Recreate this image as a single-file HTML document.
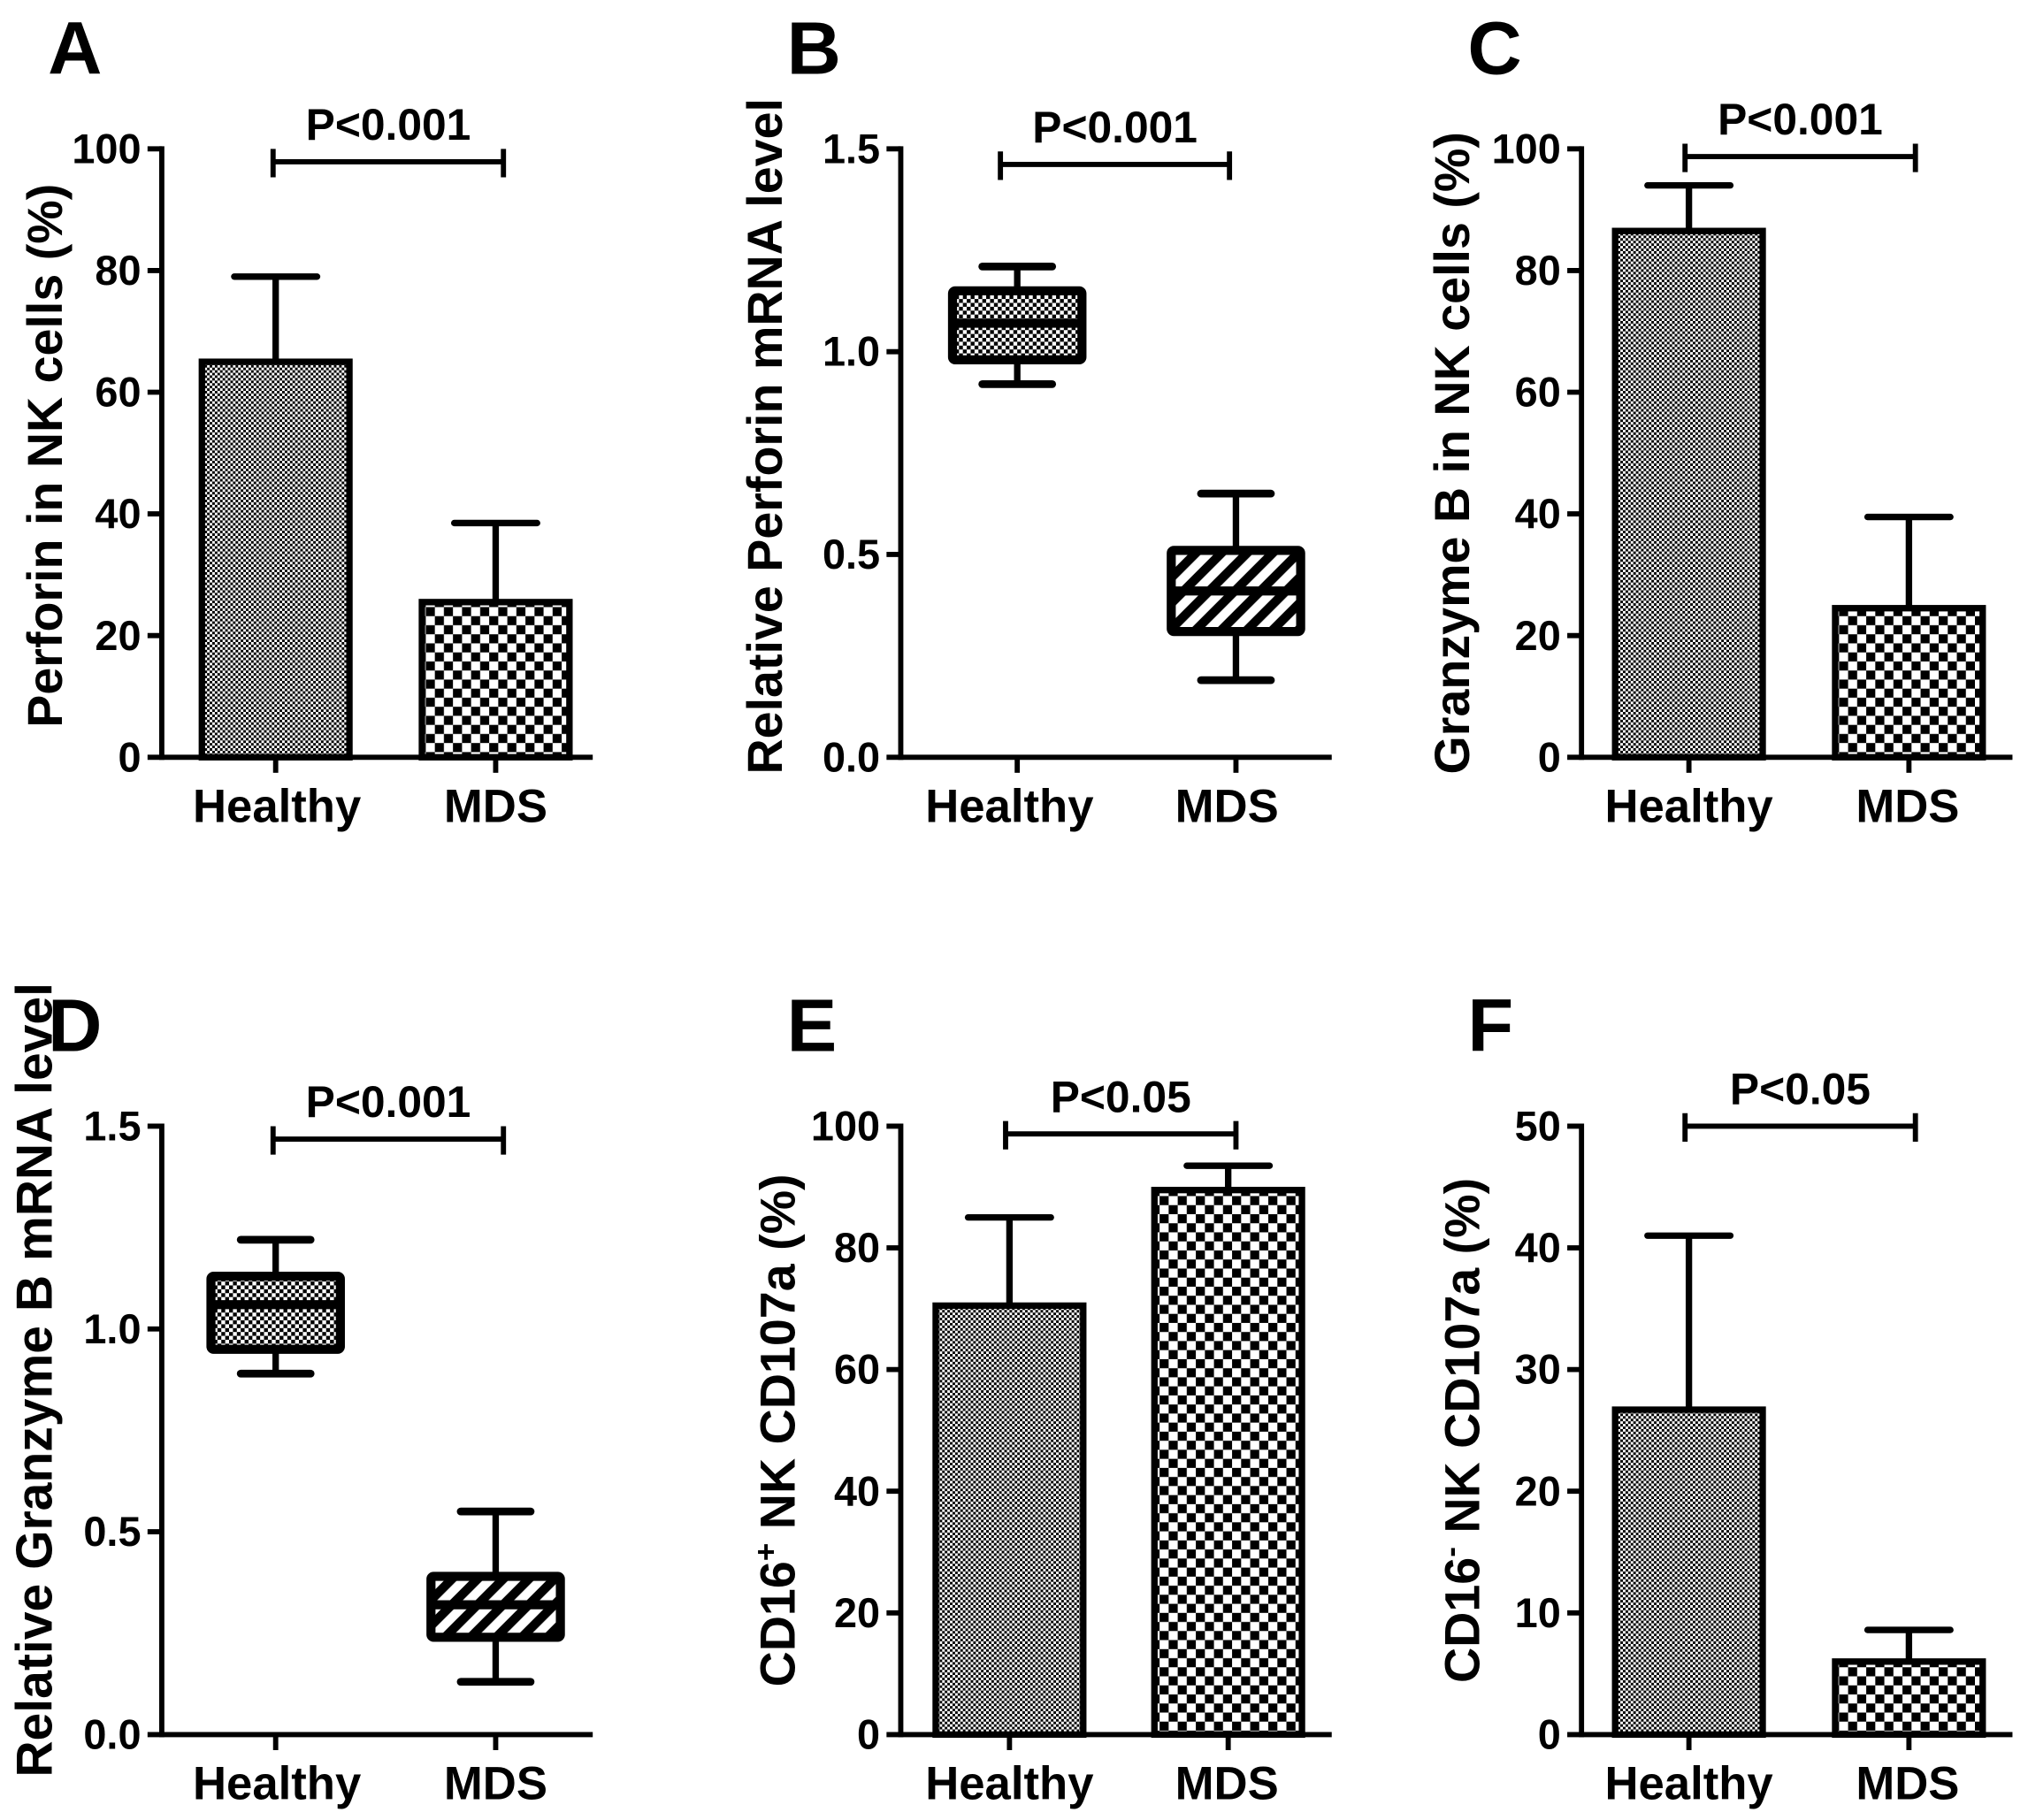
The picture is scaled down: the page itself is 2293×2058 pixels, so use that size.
<!DOCTYPE html>
<html><head><meta charset="utf-8"><style>
html,body{margin:0;padding:0;background:#fff}
svg{display:block;font-family:"Liberation Sans",Arial,sans-serif;font-weight:bold}
</style></head><body>
<svg id="fig" width="2293" height="2058" viewBox="0 0 1567 1406" preserveAspectRatio="none" xmlns="http://www.w3.org/2000/svg">
<defs>
<pattern id="fine" patternUnits="userSpaceOnUse" width="4" height="4"><rect width="4" height="4" fill="#fff"/><rect width="2" height="2" fill="#000"/><rect x="2" y="2" width="2" height="2" fill="#000"/></pattern>
<pattern id="coarse" patternUnits="userSpaceOnUse" width="14" height="14"><rect width="14" height="14" fill="#fff"/><rect width="7" height="7" fill="#000"/><rect x="7" y="7" width="7" height="7" fill="#000"/></pattern>
<pattern id="dots" patternUnits="userSpaceOnUse" width="6" height="6"><rect width="6" height="6" fill="#fff"/><rect width="3" height="3" fill="#000"/><rect x="3" y="3" width="3" height="3" fill="#000"/></pattern>
<pattern id="diag" patternUnits="userSpaceOnUse" width="14" height="14" patternTransform="rotate(45)"><rect width="14" height="14" fill="#fff"/><rect width="7" height="14" fill="#000"/></pattern>
</defs>
</svg>
<script>
// Panel data
const categories = ["Healthy","MDS"];
const aMeans = [65, 25.5];
const aErrs = [79, 38.5];
const cMeans = [86.5, 24.5];
const cErrs = [94, 39.5];
const eMeans = [70.5, 89.5];
const eErrs = [85, 93.5];
const fMeans = [26.7, 6];
const fErrs = [41, 8.6];
const bQ1 = [0.98, 0.31];
const bMed = [1.07, 0.41];
const bQ3 = [1.15, 0.51];
const bMin = [0.92, 0.19];
const bMax = [1.21, 0.65];
const dQ1 = [0.95, 0.24];
const dMed = [1.06, 0.32];
const dQ3 = [1.13, 0.39];
const dMin = [0.89, 0.13];
const dMax = [1.22, 0.55];
const ticksPct = ["0","20","40","60","80","100"];
const ticksRel = ["0.0","0.5","1.0","1.5"];
const ticksF = ["0","10","20","30","40","50"];
const pLabels = ["P<0.001","P<0.001","P<0.001","P<0.001","P<0.05","P<0.05"];

const svg = document.getElementById('fig');
const NS = "http://www.w3.org/2000/svg";
function el(tag, attrs, parent){
  const e = document.createElementNS(NS, tag);
  for (const k in attrs) e.setAttribute(k, attrs[k]);
  (parent||svg).appendChild(e);
  return e;
}
function panel(o){
  const g = el('g', {});
  
  
  const yTop = o.top, yBot = o.top + 470, ax = o.ax;
  const ys = v => yBot - (v - o.min) / (o.max - o.min) * 470;
  const xs = [o.ax + o.c0, o.ax + o.c1];
  const lx = [o.ax + (o.l0||o.c0), o.ax + (o.l1||o.c1)];
  const letter = el('text', {x:o.ax - 88, y:o.top - 58, 'font-size':58}, g);
  letter.textContent = o.letter;
  
  
  const yaxis = el('line', {x1:ax, y1:yTop-2, x2:ax, y2:yBot+2, stroke:'#000','stroke-width':4}, g);
  
  
  const xaxis = el('line', {x1:ax, y1:yBot, x2:ax+333, y2:yBot, stroke:'#000','stroke-width':4}, g);
  
  
  o.ticks.forEach((t,i) => {
    const v = o.min + (o.max - o.min) * i / (o.ticks.length - 1);
    el('line', {x1:ax-11, y1:ys(v), x2:ax, y2:ys(v), stroke:'#000','stroke-width':4}, g);
    const tl = el('text', {x:ax-16, y:ys(v)+11, 'font-size':32, 'text-anchor':'end'}, g);
    tl.textContent = t;
    
    
  });
  categories.forEach((c,i) => {
    el('line', {x1:xs[i], y1:yBot, x2:xs[i], y2:yBot+12, stroke:'#000','stroke-width':4}, g);
    const xl = el('text', {x:lx[i], y:yBot+50, 'font-size':36, 'text-anchor':'middle'}, g);
    xl.textContent = c;
    
    
  });
  const tt = el('text', {transform:`translate(${o.tx},${o.top+o.tc}) rotate(-90)`, 'font-size':o.tfs||38, 'text-anchor':'middle'}, g);
  tt.innerHTML = o.title;
  
  
  const hw = 57;
  if (o.type === 'bar'){
    const fills = ['url(#fine)','url(#coarse)'];
    o.means.forEach((m,i) => {
      const e = el('line', {x1:xs[i], y1:ys(o.errs[i]), x2:xs[i], y2:ys(m), stroke:'#000','stroke-width':5}, g);
      
      
      el('line', {x1:xs[i]-32, y1:ys(o.errs[i]), x2:xs[i]+32, y2:ys(o.errs[i]), stroke:'#000','stroke-width':5,'stroke-linecap':'round'}, g);
      const b = el('rect', {x:xs[i]-hw, y:ys(m), width:hw*2, height:yBot-ys(m), fill:fills[i], stroke:'#000','stroke-width':5}, g);
      
      
    });
  } else {
    const fills = ['url(#dots)','url(#diag)'];
    const bw = 50;
    o.q1.forEach((q,i) => {
      el('line', {x1:xs[i], y1:ys(o.mn[i]), x2:xs[i], y2:ys(o.mx[i]), stroke:'#000','stroke-width':5}, g);
      el('line', {x1:xs[i]-27, y1:ys(o.mn[i]), x2:xs[i]+27, y2:ys(o.mn[i]), stroke:'#000','stroke-width':6,'stroke-linecap':'round'}, g);
      el('line', {x1:xs[i]-27, y1:ys(o.mx[i]), x2:xs[i]+27, y2:ys(o.mx[i]), stroke:'#000','stroke-width':6,'stroke-linecap':'round'}, g);
      const b = el('rect', {x:xs[i]-bw, y:ys(o.q3[i]), width:bw*2, height:ys(q)-ys(o.q3[i]), fill:fills[i], stroke:'#000','stroke-width':7,rx:2}, g);
      
      
      el('line', {x1:xs[i]-bw, y1:ys(o.med[i]), x2:xs[i]+bw, y2:ys(o.med[i]), stroke:'#000','stroke-width':7}, g);
    });
  }
  const by = o.by;
  const br = el('path', {d:`M${o.b0},${by-10} V${by+12} M${o.b0},${by} H${o.b1} M${o.b1},${by-10} V${by+12}`, stroke:'#000','stroke-width':4,fill:'none'}, g);
  
  
  const pt = el('text', {x:(o.b0+o.b1)/2, y:by-17, 'font-size':34, 'text-anchor':'middle'}, g);
  pt.textContent = o.p;
  
  
}
panel({letter:'A', ax:125, top:115, min:0, max:100, ticks:ticksPct, c0:88, c1:258, l0:89, l1:258, type:'bar', means:aMeans, errs:aErrs, title:'Perforin in NK cells (%)', tx:48, tc:237, b0:211, b1:389, by:125, p:pLabels[0]});
panel({letter:'B', ax:696, top:115, min:0, max:1.5, ticks:ticksRel, c0:90, c1:259, l0:84, l1:252, type:'box', q1:bQ1, med:bMed, q3:bQ3, mn:bMin, mx:bMax, title:'Relative Perforin mRNA level', tx:604, tc:222, b0:773, b1:950, by:127, p:pLabels[1]});
panel({letter:'C', ax:1222, top:115, min:0, max:100, ticks:ticksPct, c0:83, c1:253, l0:83, l1:252, type:'bar', means:cMeans, errs:cErrs, title:'Granzyme B in NK cells (%)', tx:1135, tc:235, b0:1302, b1:1480, by:121, p:pLabels[2]});
panel({letter:'D', ax:125, top:870, min:0, max:1.5, ticks:ticksRel, c0:88, c1:258, l0:89, l1:258, type:'box', q1:dQ1, med:dMed, q3:dQ3, mn:dMin, mx:dMax, title:'Relative Granzyme B mRNA level', tfs:39, tx:40, tc:196, b0:211, b1:389, by:880, p:pLabels[3]});
panel({letter:'E', ax:696, top:870, min:0, max:100, ticks:ticksPct, c0:84, c1:253, l0:84, l1:252, type:'bar', means:eMeans, errs:eErrs, title:'CD16<tspan font-size="24" dy="-14">+</tspan><tspan dy="14"> NK CD107a (%)</tspan>', tx:614, tc:235, b0:777, b1:955, by:876, p:pLabels[4]});
panel({letter:'F', ax:1222, top:870, min:0, max:50, ticks:ticksF, c0:83, c1:253, l0:83, l1:252, type:'bar', means:fMeans, errs:fErrs, title:'CD16<tspan font-size="24" dy="-14">-</tspan><tspan dy="14"> NK CD107a (%)</tspan>', tx:1143, tc:235, b0:1302, b1:1480, by:870, p:pLabels[5]});
</script>
</body></html>
